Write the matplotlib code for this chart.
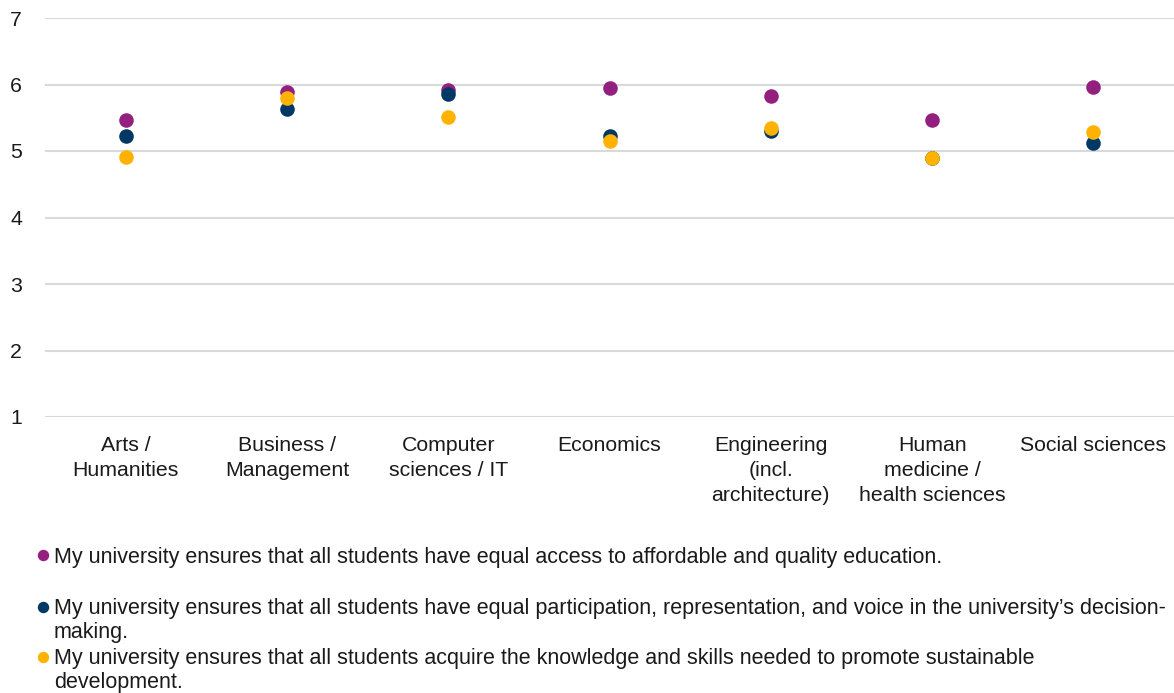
import matplotlib
matplotlib.use("Agg")
import matplotlib.pyplot as plt
from matplotlib.lines import Line2D

plt.rcParams['font.family'] = ['Liberation Sans', 'DejaVu Sans']

categories = ["Arts /\nHumanities", "Business /\nManagement", "Computer\nsciences / IT",
              "Economics", "Engineering\n(incl.\narchitecture)", "Human\nmedicine /\nhealth sciences",
              "Social sciences"]
access = [5.46, 5.88, 5.91, 5.95, 5.82, 5.46, 5.96]
participation = [5.22, 5.63, 5.86, 5.22, 5.30, 4.90, 5.12]
knowledge = [4.91, 5.79, 5.51, 5.15, 5.34, 4.89, 5.28]

series_labels = [
    "My university ensures that all students have equal access to affordable and quality education.",
    "My university ensures that all students have equal participation, representation, and voice in the university\u2019s decision-\nmaking.",
    "My university ensures that all students acquire the knowledge and skills needed to promote sustainable\ndevelopment.",
]
colors = ["#93207F", "#003865", "#FFB300"]
yticks = [1, 2, 3, 4, 5, 6, 7]

FS = 15.3
LS = 1.38

fig = plt.figure(figsize=(11.74, 6.93), dpi=100)
ax = fig.add_axes([45/1174, (693-417)/693, 1 - 45/1174, (417-18)/693])

x = list(range(len(categories)))
for vals, c in zip([access, participation, knowledge], colors):
    ax.scatter(x, vals, s=110, color=c, zorder=3, linewidths=0)

ax.set_xlim(-0.5, len(categories) - 0.5)
ax.set_ylim(1, 7)
ax.set_yticks(yticks)
ax.set_yticklabels([str(v) for v in yticks], fontsize=FS, color="#1a1a1a")
ax.set_xticks(x)
ax.set_xticklabels(categories, fontsize=FS, color="#1a1a1a", linespacing=LS)
ax.tick_params(axis='both', length=0)
ax.tick_params(axis='x', pad=14)
ax.tick_params(axis='y', pad=25)
for lbl in ax.get_yticklabels():
    lbl.set_horizontalalignment('left')
ax.grid(axis='y', color="#d9d9d9", linewidth=1.5)
ax.set_axisbelow(True)
for s in ax.spines.values():
    s.set_visible(False)

# legend (manual, Excel-style)
marker_y = [555, 607, 657]
baseline_y = [563, 614, 664]
for lab, c, my, by in zip(series_labels, colors, marker_y, baseline_y):
    fig.add_artist(Line2D([43/1174], [1 - my/693], marker='o', color=c, markersize=7.2,
                          linestyle='none', transform=fig.transFigure))
    lines = lab.split("\n")
    for i, ln in enumerate(lines):
        fig.text(54/1174, 1 - (by + 24*i)/693, ln, fontsize=15.5, color="#1a1a1a",
                 va='baseline', ha='left', transform=fig.transFigure)

fig.savefig("out.png", dpi=100)
